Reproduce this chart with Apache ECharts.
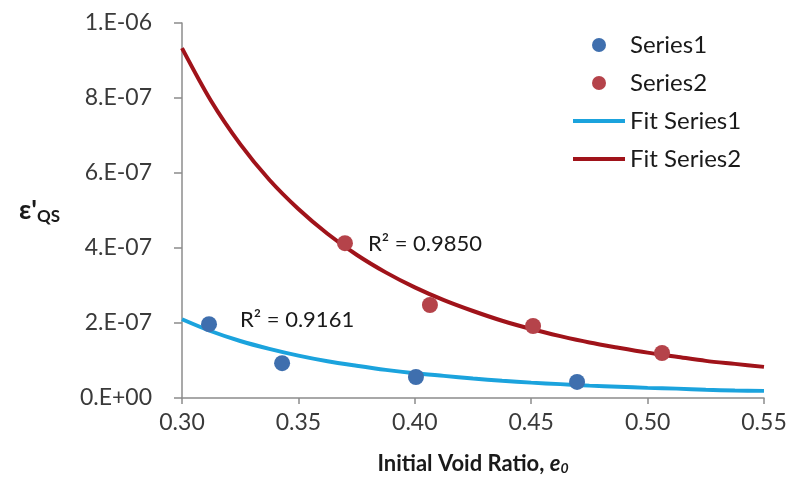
<!DOCTYPE html>
<html>
<head>
<meta charset="utf-8">
<script src="https://cdn.jsdelivr.net/npm/echarts@6/dist/echarts.min.js"></script>
<style>
  html, body { margin: 0; padding: 0; background: #fff; }
  #chart { width: 793px; height: 498px; }
</style>
</head>
<body>
<div id="chart"></div>
<script>
// Measured strain rate against initial void ratio
const series1X = [0.3116, 0.343, 0.4005, 0.4697];
const series1Y = [1.97e-7, 0.93e-7, 0.56e-7, 0.43e-7];
const series2X = [0.370, 0.4065, 0.4508, 0.5062];
const series2Y = [4.13e-7, 2.48e-7, 1.92e-7, 1.20e-7];

// Trendline samples along the void ratio range
const fitX = [0.3000, 0.3125, 0.3250, 0.3375, 0.3500, 0.3625, 0.3750, 0.3875, 0.4000, 0.4125, 0.4250,
              0.4375, 0.4500, 0.4625, 0.4750, 0.4875, 0.5000, 0.5125, 0.5250, 0.5375, 0.5500];
const fit1Y = [2.10e-7, 1.78e-7, 1.52e-7, 1.31e-7, 1.13e-7, 0.98e-7, 0.86e-7, 0.75e-7, 0.66e-7, 0.59e-7, 0.52e-7,
               0.46e-7, 0.41e-7, 0.37e-7, 0.33e-7, 0.30e-7, 0.27e-7, 0.25e-7, 0.22e-7, 0.20e-7, 0.19e-7];
const fit2Y = [9.33e-7, 7.92e-7, 6.77e-7, 5.82e-7, 5.04e-7, 4.38e-7, 3.82e-7, 3.35e-7, 2.95e-7, 2.61e-7, 2.32e-7,
               2.06e-7, 1.84e-7, 1.65e-7, 1.48e-7, 1.34e-7, 1.21e-7, 1.10e-7, 0.99e-7, 0.91e-7, 0.83e-7];

const fitLabels = ['R\u00b2 = 0.9161', 'R\u00b2 = 0.9850'];
const yTickLabels = ['0.E+00', '2.E-07', '4.E-07', '6.E-07', '8.E-07', '1.E-06'];

const zip = (xs, ys) => xs.map((x, i) => [x, ys[i]]);

const font = 'Lato, "Open Sans", sans-serif';
const ink = '#1a1a1a';

// First point of each measured series carries its trendline R² note
function withNote(xs, ys, note, offset) {
  return zip(xs, ys).map((p, i) => i === 0 ? {
    value: p,
    label: {
      show: true, position: 'right', offset: offset,
      fontFamily: font, fontSize: 22, color: ink,
      formatter: note
    }
  } : p);
}

const chart = echarts.init(document.getElementById('chart'));

chart.setOption({
  animation: false,
  backgroundColor: '#ffffff',
  grid: { left: 182, right: 29, top: 23, bottom: 100, containLabel: false },
  legend: {
    orient: 'vertical',
    left: 568,
    top: 28,
    itemWidth: 52,
    itemHeight: 14,
    itemGap: 14,
    textStyle: { fontFamily: font, fontSize: 24, color: ink },
    data: [
      { name: 'Series1', icon: 'circle' },
      { name: 'Series2', icon: 'circle' },
      { name: 'Fit Series1', icon: 'path://M0,0H52V4H0Z' },
      { name: 'Fit Series2', icon: 'path://M0,0H52V4H0Z' }
    ]
  },
  xAxis: {
    type: 'value',
    min: 0.30,
    max: 0.55,
    interval: 0.05,
    name: '{b|Initial Void Ratio, }{e|e}{s|0}',
    nameLocation: 'middle',
    nameGap: 54,
    nameTextStyle: {
      rich: {
        b: { fontFamily: font, fontSize: 22, fontWeight: 'bold', color: ink },
        e: { fontFamily: font, fontSize: 22, fontWeight: 'bold', fontStyle: 'italic', color: ink },
        s: { fontFamily: font, fontSize: 14, fontWeight: 'bold', fontStyle: 'italic', color: ink, verticalAlign: 'bottom', padding: [9, 0, 0, 0] }
      }
    },
    axisLine: { show: true, onZero: false, lineStyle: { color: '#8c8c8c', width: 1.5 } },
    axisTick: { show: true, inside: false, length: 6, lineStyle: { color: '#8c8c8c', width: 1.5 } },
    splitLine: { show: false },
    axisLabel: {
      margin: 13,
      fontFamily: font,
      fontSize: 23,
      color: '#3a3a3a',
      formatter: v => v.toFixed(2)
    }
  },
  yAxis: {
    type: 'value',
    min: 0,
    max: 1e-6,
    interval: 2e-7,
    name: '{e|\u03b5\'}{s|QS}',
    nameLocation: 'middle',
    nameRotate: 0,
    nameGap: 122,
    nameTextStyle: {
      rich: {
        e: { fontFamily: font, fontSize: 27, fontWeight: 'bold', color: ink },
        s: { fontFamily: font, fontSize: 17, fontWeight: 'bold', color: ink, verticalAlign: 'bottom', padding: [12, 0, 0, 0] }
      }
    },
    axisLine: { show: true, lineStyle: { color: '#8c8c8c', width: 1.5 } },
    axisTick: { show: true, inside: false, length: 8, lineStyle: { color: '#8c8c8c', width: 1.5 } },
    splitLine: { show: false },
    axisLabel: {
      margin: 30,
      fontFamily: font,
      fontSize: 23,
      color: '#3a3a3a',
      formatter: v => yTickLabels[Math.round(v / 2e-7)]
    }
  },
  series: [
    {
      name: 'Fit Series1',
      type: 'line',
      data: zip(fitX, fit1Y),
      smooth: 0.3,
      showSymbol: false,
      lineStyle: { color: '#1ba3dd', width: 4 },
      itemStyle: { color: '#1ba3dd' },
      z: 2
    },
    {
      name: 'Fit Series2',
      type: 'line',
      data: zip(fitX, fit2Y),
      smooth: 0.3,
      showSymbol: false,
      lineStyle: { color: '#a0131a', width: 4 },
      itemStyle: { color: '#a0131a' },
      z: 2
    },
    {
      name: 'Series1',
      type: 'scatter',
      data: withNote(series1X, series1Y, fitLabels[0], [18, -4]),
      symbol: 'circle',
      symbolSize: 16,
      itemStyle: { color: '#3f6fae', opacity: 1 },
      z: 3
    },
    {
      name: 'Series2',
      type: 'scatter',
      data: withNote(series2X, series2Y, fitLabels[1], [10, 1]),
      symbol: 'circle',
      symbolSize: 16,
      itemStyle: { color: '#b5434a', opacity: 1 },
      z: 3
    }
  ]
});
</script>
</body>
</html>
